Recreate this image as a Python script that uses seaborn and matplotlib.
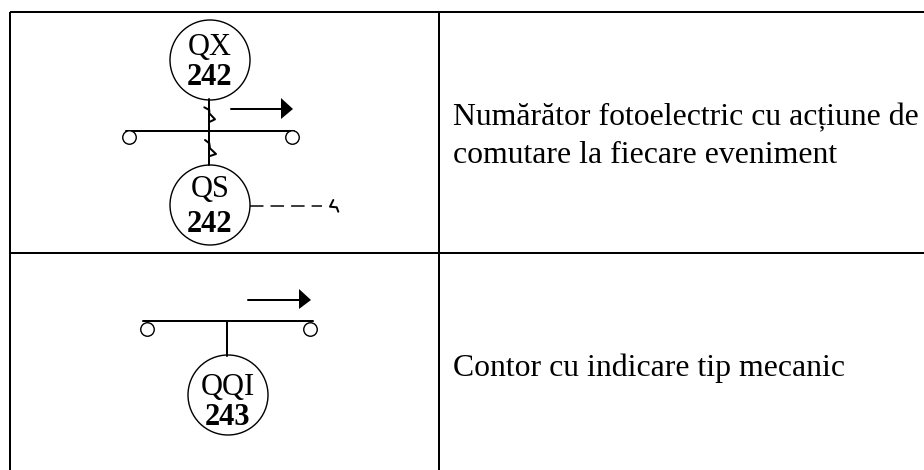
import pandas as pd
import matplotlib.pyplot as plt
import seaborn as sns

# ── Table text ────────────────────────────────────────────────────────────
row_text = [
    'Numărător fotoelectric cu acțiune de',
    'comutare la fiecare eveniment',
    'Contor cu indicare tip mecanic',
]
row_text_x = [453, 453, 453]
row_text_y = [125, 163, 376]

# ── Table grid (pixel space) ──────────────────────────────────────────────
grid_x = [10, 924, None, 10, 924, None, 10, 10, None, 439, 439]
grid_y = [12, 12, None, 253, 253, None, 12, 470, None, 12, 470]

# ── Diagram wires: one list of points per wire ────────────────────────────
wires = {
    'stem_top': ([209, 209], [99, 165]),
    'bus_top': ([126, 294], [131, 131]),
    'arrow_top': ([231, 283], [109, 109]),
    'tick_a': ([204.3, 209.3, 209.3, 215, 210], [107.3, 110, 113.3, 119.3, 121.7]),
    'tick_b': ([205, 209.3, 210, 216, 210], [140, 143.3, 148.3, 154, 156]),
    'tick_c': ([333.3, 330, 336.7, 338.3], [200, 206.7, 207.3, 211.7]),
    'bus_low': ([143, 313], [321, 321]),
    'stem_low': ([227, 227], [321, 356]),
    'arrow_low': ([248, 301], [300, 300]),
}
dash_x = [250, 322]
dash_y = [206, 206]

# ── Symbols ───────────────────────────────────────────────────────────────
big_x = [210, 210, 228]
big_y = [60, 205, 395]
small_x = [129, 292, 147, 310]
small_y = [137, 137, 329, 329]
head_x = [(281, 293, 281), (299, 311, 299)]
head_y = [(98, 109, 119), (289, 300, 309)]

labels = ['QX', '242', 'QS', '242', 'QQI', '243']
label_x = [210, 210, 210, 210, 228, 228]
label_y = [55, 85, 197, 232, 395, 425]
label_weight = ['normal', 'bold', 'normal', 'bold', 'normal', 'bold']

px = 72 / 100  # points per pixel at dpi 100

sns.set_theme(style='white')
plt.rcParams['font.family'] = ['Liberation Serif', 'DejaVu Serif']

fig, ax = plt.subplots(figsize=(9.24, 4.7), dpi=100)
ax.set_position([0, 0, 1, 1])

rows = []
for name, (xs, ys) in wires.items():
    for x, y in zip(xs, ys):
        rows.append({'wire': name, 'x': x, 'y': y})
df_wires = pd.DataFrame(rows)

sns.lineplot(data=df_wires, x='x', y='y', units='wire', estimator=None, sort=False,
             color='black', lw=2 * px, ax=ax, legend=False)
sns.lineplot(x=dash_x, y=dash_y, estimator=None, sort=False, color='black',
             lw=1.5 * px, dashes=False, linestyle=(0, (9, 4.7)), ax=ax)

ax.plot(grid_x, grid_y, color='black', lw=2 * px, solid_capstyle='butt')

sns.scatterplot(x=big_x, y=big_y, s=(80 * px) ** 2, facecolor='none',
                edgecolor='black', linewidth=1.4 * px, ax=ax)
sns.scatterplot(x=small_x, y=small_y, s=(13.5 * px) ** 2, facecolor='white',
                edgecolor='black', linewidth=1.4 * px, ax=ax, zorder=3)

for xs, ys in zip(head_x, head_y):
    ax.fill(xs, ys, color='black', lw=0)

for t, x, y, w in zip(labels, label_x, label_y, label_weight):
    ax.text(x, y, t, fontsize=22, fontweight=w, ha='center', va='baseline', color='black')

for t, x, y in zip(row_text, row_text_x, row_text_y):
    ax.text(x, y, t, fontsize=22.9, ha='left', va='baseline', color='black')

ax.set_xlim(0, 924)
ax.set_ylim(470, 0)
ax.axis('off')

plt.savefig('out.png', dpi=100)
